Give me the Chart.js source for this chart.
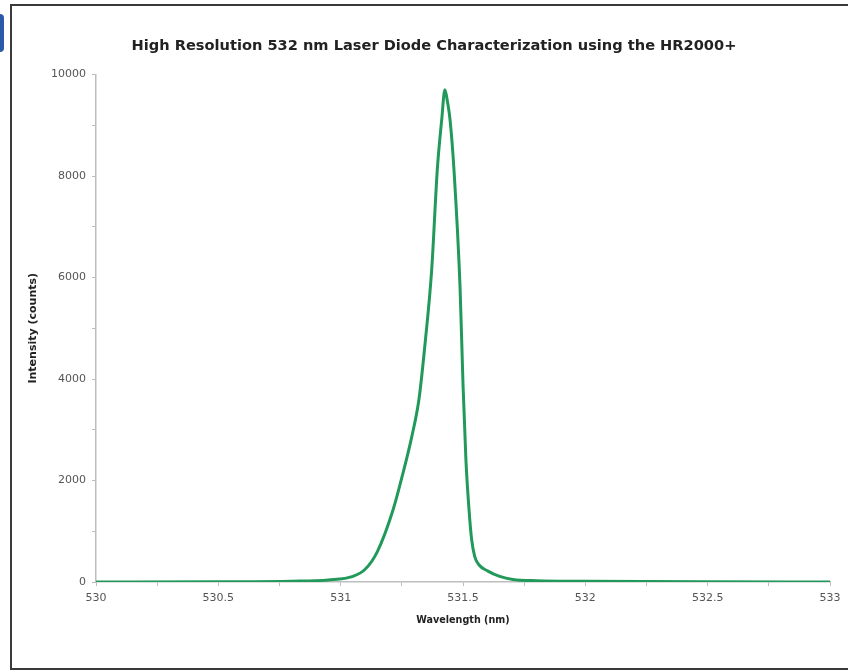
<!DOCTYPE html>
<html>
<head>
<meta charset="utf-8">
<script src="https://cdn.jsdelivr.net/npm/chart.js@4"></script>
<style>
  html, body { margin: 0; padding: 0; background: #fff; }
  #wrap { position: relative; width: 848px; height: 672px; overflow: hidden; }
  #chart { position: absolute; left: 0; top: 0; }
  #frame { position: absolute; left: 10px; top: 4px; width: 850px; height: 662px;
           border: 2px solid #3a3a3a; border-right: none; pointer-events: none; }
  #logo { position: absolute; left: -6px; top: 14px; width: 10px; height: 38px;
          background: #2a5aa8; border-radius: 4px; }
</style>
</head>
<body>
<div id="wrap">
  <canvas id="chart" width="848" height="672"></canvas>
  <div id="frame"></div>
  <div id="logo"></div>
</div>
<script>
// Spectrum (nm, counts)
const wavelengths = [530, 530.5, 530.8, 530.95, 531.05, 531.1, 531.15, 531.214, 531.255, 531.29, 531.32,
  531.345, 531.372, 531.395, 531.413, 531.426, 531.437, 531.447, 531.463, 531.488, 531.5, 531.512,
  531.525, 531.535, 531.548, 531.565, 531.6, 531.65, 531.704, 531.8, 532, 532.5, 533];
const intensities = [0, 5, 15, 40, 110, 250, 600, 1420, 2150, 2850, 3600,
  4700, 6150, 8130, 9110, 9700, 9450, 9110, 8130, 5800, 3900, 2400,
  1400, 850, 500, 340, 220, 110, 50, 25, 15, 5, 0];

const titleText = 'High Resolution 532 nm Laser Diode Characterization using the HR2000+';
const xTitle = 'Wavelength (nm)';
const yTitle = 'Intensity (counts)';

const points = wavelengths.map((w, i) => ({ x: w, y: intensities[i] }));

const family = '"DejaVu Sans", Verdana, sans-serif';
const tickFont = { family: family, size: 11 };
const axisGrey = '#bdbdbd';

new Chart(document.getElementById('chart'), {
  type: 'line',
  data: {
    datasets: [{
      data: points,
      borderColor: '#21995a',
      borderWidth: 3,
      pointRadius: 0,
      cubicInterpolationMode: 'monotone',
      fill: false
    }]
  },
  options: {
    responsive: false,
    animation: false,
    layout: { padding: { top: 0, right: 0, bottom: 0, left: 20 } },
    plugins: {
      legend: { display: false },
      tooltip: { enabled: false },
      title: {
        display: true,
        text: titleText,
        color: '#222',
        font: { family: family, size: 14.6, weight: 'bold' },
        padding: { top: 37, bottom: 20 }
      }
    },
    scales: {
      x: {
        type: 'linear',
        min: 530,
        max: 533,
        afterFit: s => { s.height = 90; s.paddingRight = 18; },
        border: { color: axisGrey, width: 1.5 },
        grid: { drawOnChartArea: false, color: axisGrey, tickLength: 4 },
        ticks: {
          stepSize: 0.25,
          autoSkip: false,
          maxRotation: 0,
          padding: 6,
          color: '#555',
          font: tickFont,
          callback: v => Math.abs(v * 2 - Math.round(v * 2)) < 1e-6 ? String(+v.toFixed(1)) : ''
        },
        title: {
          display: true,
          text: xTitle,
          color: '#222',
          font: { family: family, size: 9.6, weight: 'bold' },
          padding: { top: 0, bottom: 46 }
        }
      },
      y: {
        min: 0,
        max: 10000,
        afterFit: s => { s.width = 76; },
        border: { color: axisGrey, width: 1.5 },
        grid: { drawOnChartArea: false, color: axisGrey, tickLength: 4 },
        ticks: {
          stepSize: 1000,
          autoSkip: false,
          padding: 6,
          color: '#555',
          font: tickFont,
          callback: v => v % 2000 === 0 ? String(v) : ''
        },
        title: {
          display: true,
          text: yTitle,
          color: '#222',
          font: { family: family, size: 11, weight: 'bold' },
          padding: { top: 7, bottom: 0 }
        }
      }
    }
  }
});
</script>
</body>
</html>
